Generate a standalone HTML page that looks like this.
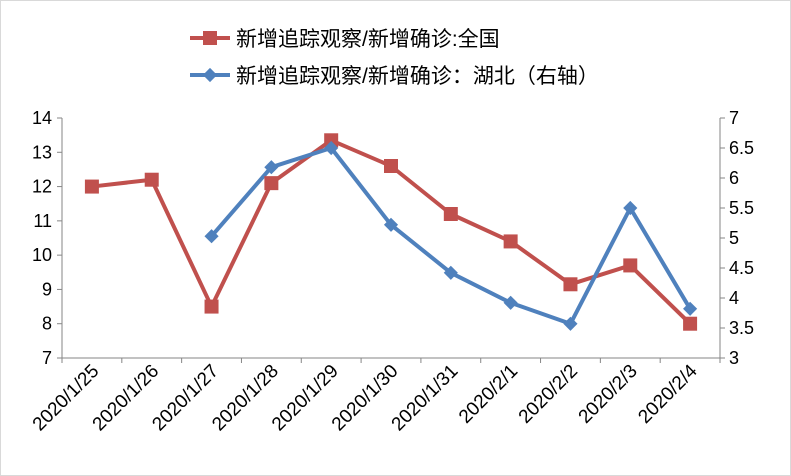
<!DOCTYPE html>
<html><head><meta charset="utf-8"><style>
body{margin:0;background:#fff;}
svg{display:block;font-family:"Liberation Sans","Noto Sans CJK SC",sans-serif;}
</style></head><body>
<svg id="chart" width="791" height="476">
<rect x="0.5" y="0.5" width="790" height="475" fill="#fff" stroke="#d9d9d9"/>
<g id="legend">
 <g>
  <line x1="190" y1="38" x2="230" y2="38" stroke="#C0504D" stroke-width="4"/>
  <rect x="203" y="31" width="14" height="14" fill="#C0504D"/>
  <text x="236" y="46" font-size="21" fill="#000">新增追踪观察/新增确诊:全国</text>
 </g>
 <g>
  <line x1="190" y1="75" x2="230" y2="75" stroke="#4F81BD" stroke-width="4"/>
  <rect x="205" y="70" width="10" height="10" fill="#4F81BD" transform="rotate(45 210 75)"/>
  <text x="236" y="83" font-size="21" fill="#000">新增追踪观察/新增确诊：湖北（右轴）</text>
 </g>
</g>
<g id="axes"></g>
<g id="marks"></g>
</svg>
<script>
const categories=["2020/1/25","2020/1/26","2020/1/27","2020/1/28","2020/1/29","2020/1/30","2020/1/31","2020/2/1","2020/2/2","2020/2/3","2020/2/4"];
const nationalValues=[12.0,12.2,8.5,12.1,13.35,12.6,11.2,10.4,9.15,9.7,8.0];
const hubeiValues=[null,null,5.03,6.18,6.5,5.22,4.42,3.92,3.57,5.5,3.82];
const leftTicks=[7,8,9,10,11,12,13,14];
const rightTicks=[3,3.5,4,4.5,5,5.5,6,6.5,7];
const NS="http://www.w3.org/2000/svg";
const L=62,R=720,T=118,B=358;
const band=(R-L)/categories.length;
const x=i=>L+band*(i+0.5);
const yL=v=>B-(v-7)/(14-7)*(B-T);
const yR=v=>B-(v-3)/(7-3)*(B-T);
function mk(tag,attrs,parent){const e=document.createElementNS(NS,tag);for(const k in attrs)e.setAttribute(k,attrs[k]);parent.appendChild(e);return e;}
const axes=document.getElementById('axes'),marks=document.getElementById('marks');
const la=mk('line',{x1:L,y1:T,x2:L,y2:B,stroke:'#868686'},axes);


const ra=mk('line',{x1:R,y1:T,x2:R,y2:B,stroke:'#868686'},axes);


const xa=mk('line',{x1:L,y1:B,x2:R,y2:B,stroke:'#868686'},axes);


leftTicks.forEach(v=>{
 mk('line',{x1:L-5,y1:yL(v),x2:L,y2:yL(v),stroke:'#868686'},axes);
 const t=mk('text',{x:L-10,y:yL(v)+6,'text-anchor':'end','font-size':18},axes);
 t.textContent=v;
 
 
});
rightTicks.forEach(v=>{
 mk('line',{x1:R,y1:yR(v),x2:R+5,y2:yR(v),stroke:'#868686'},axes);
 const t=mk('text',{x:R+9,y:yR(v)+6,'font-size':18},axes);
 t.textContent=v;
 
 
});
for(let i=0;i<=categories.length;i++){mk('line',{x1:L+band*i,y1:B,x2:L+band*i,y2:B+5,stroke:'#868686'},axes);}
categories.forEach((c,i)=>{
 const t=mk('text',{x:x(i)+8,y:B+14,'text-anchor':'end','font-size':19,transform:`rotate(-45 ${x(i)+8} ${B+14})`},axes);
 t.textContent=c;
 
 
});
const np=nationalValues.map((v,i)=>`${x(i)},${yL(v)}`).join(' ');
const nl=mk('polyline',{points:np,fill:'none',stroke:'#C0504D','stroke-width':4,'stroke-linejoin':'round'},marks);


const hp=hubeiValues.map((v,i)=>v==null?null:`${x(i)},${yR(v)}`).filter(p=>p).join(' ');
const hl=mk('polyline',{points:hp,fill:'none',stroke:'#4F81BD','stroke-width':4,'stroke-linejoin':'round'},marks);


nationalValues.forEach((v,i)=>{
 const r=mk('rect',{x:x(i)-7,y:yL(v)-7,width:14,height:14,fill:'#C0504D'},marks);
 
 
});
hubeiValues.forEach((v,i)=>{
 if(v==null)return;
 const r=mk('rect',{x:x(i)-5,y:yR(v)-5,width:10,height:10,fill:'#4F81BD',transform:`rotate(45 ${x(i)} ${yR(v)})`},marks);
 
 
});
</script>
</body></html>
